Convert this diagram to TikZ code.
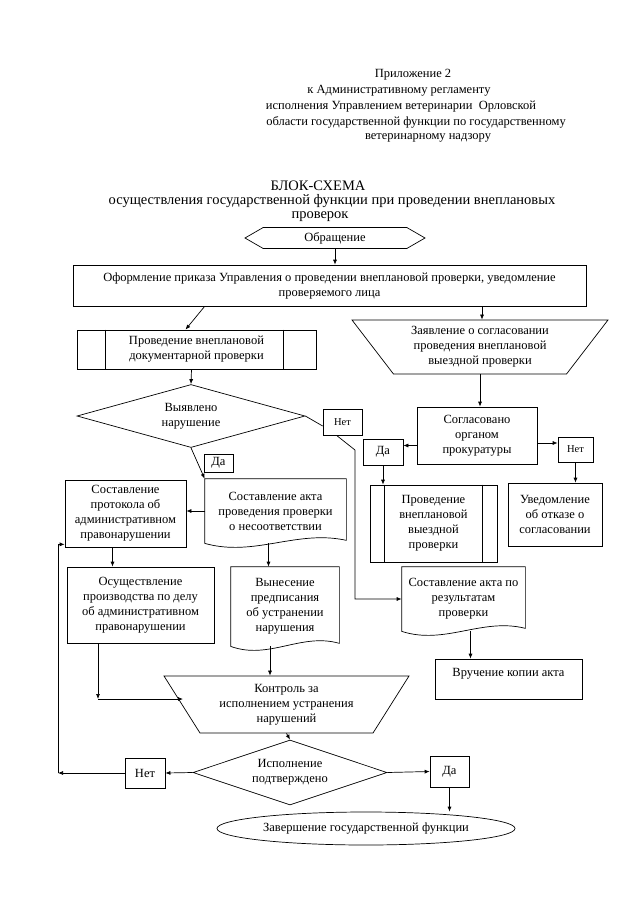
\documentclass[tikz,border=0pt]{standalone}
\usepackage{fontspec}
\setmainfont{Liberation Serif}
\usepackage{tikz}
\usetikzlibrary{shapes.geometric,shapes.symbols,arrows.meta,calc}

% wavy bottom of a document box
\newcommand{\docframe}[1]{%
  \draw (#1.north west) -- (#1.north east) -- ([yshift=3pt]#1.south east)
    .. controls ($(#1.south west)!0.65!(#1.south east)+(0pt,14pt)$)
    and ($(#1.south west)!0.35!(#1.south east)+(0pt,-14pt)$) .. (#1.south west) -- cycle;}

\begin{document}
\begin{tikzpicture}[x=1pt,y=-1pt,line width=0.7pt,
    every node/.style={font=\fontsize{12.5}{15}\selectfont},
    box/.style={draw, rectangle, align=center, inner sep=2pt},
    docbox/.style={rectangle, align=center, inner sep=2pt},
    ans/.style={draw, rectangle, inner sep=1pt},
    trap/.style={draw, trapezium, shape border rotate=180, trapezium stretches body,
      align=center, inner sep=1pt},
    cond/.style={draw, diamond, aspect=3.6, inner sep=0pt, align=center},
    ttl/.style={font=\fontsize{14.5}{17}\selectfont, inner sep=0pt},
    arr/.style={-{Latex[length=5pt,width=4pt]}}]
        \useasboundingbox (0,0) rectangle (640,905);

        % Heading
        \node (hdr1) at (413,75) {Приложение 2};
        \node (hdr2) at (399,91) {к Административному регламенту};
        \node (hdr3) at (401,107) {исполнения Управлением ветеринарии\ \ Орловской};
        \node (hdr4) at (416,122) {области государственной функции по государственному};
        \node (hdr5) at (428,138) {ветеринарному надзору};

        \node[ttl] (ttl1) at (318,186) {БЛОК-СХЕМА};
        \node[ttl] (ttl2) at (332,201) {осуществления государственной функции при проведении внеплановых};
        \node[ttl] (ttl3) at (320,217) {проверок};

        % Start and order
        \node[draw, signal, signal to=east and west, signal pointer angle=60,
          minimum width=180pt, minimum height=21pt, inner sep=1pt] (obr) at (335,238) {Обращение};
        \node[box, minimum width=513pt, minimum height=41pt] (ofor) at (329.5,285.5)
          {Оформление приказа Управления о проведении внеплановой проверки, уведомление\\проверяемого лица};

        % Document check
        \node[box, minimum width=239pt, minimum height=39pt] (doc) at (196.5,349.5)
          {Проведение внеплановой\\документарной проверки};
        \draw ([xshift=29pt]doc.north west) -- ([xshift=29pt]doc.south west);
        \draw ([xshift=-33pt]doc.north east) -- ([xshift=-33pt]doc.south east);

        \node[cond, minimum width=228pt, minimum height=63pt] (vyyav) at (191,416) {Выявлено\\нарушение};
        \node[ans, minimum width=39pt, minimum height=26pt, font=\fontsize{10.5}{12}\selectfont] (net1) at (342.5,422) {Нет};
        \node[ans, minimum width=29pt, minimum height=18pt] (da1) at (218.5,463) {Да};

        \node[docbox, minimum width=141pt, minimum height=64pt] (akt1) at (275.5,511) 
          {Составление акта\\проведения проверки\\о несоответствии};
        \docframe{akt1}
        \node[box, minimum width=121pt, minimum height=67pt] (prot) at (125.5,513.5)
          {Составление\\протокола об\\административном\\правонарушении};

        \node[box, minimum width=147pt, minimum height=76pt] (osu) at (140.5,605)
          {Осуществление\\производства по делу\\об административном\\правонарушении};
        \node[docbox, minimum width=108pt, minimum height=79pt] (vyn) at (285,606.5)
          {Вынесение\\предписания\\об устранении\\нарушения};
        \docframe{vyn}

        % Field check
        \node[trap, trapezium left angle=46, trapezium right angle=46,
          minimum width=256pt, minimum height=54pt] (sogl) at (480,347)
          {Заявление о согласовании\\проведения внеплановой\\выездной проверки};
        \node[box, minimum width=120pt, minimum height=57pt] (soglas) at (477,435.5)
          {Согласовано\\органом\\прокуратуры};
        \node[ans, minimum width=40pt, minimum height=26pt] (da2) at (383,452) {Да};
        \node[ans, minimum width=35pt, minimum height=25pt, font=\fontsize{10.5}{12}\selectfont] (net2) at (575.5,449.5) {Нет};
        \node[box, minimum width=127pt, minimum height=77pt] (vyezd) at (433.5,523.5)
          {Проведение\\внеплановой\\выездной\\проверки};
        \draw ([xshift=15pt]vyezd.north west) -- ([xshift=15pt]vyezd.south west);
        \draw ([xshift=-15pt]vyezd.north east) -- ([xshift=-15pt]vyezd.south east);
        \node[box, minimum width=94pt, minimum height=63pt] (uved) at (555,514.5)
          {Уведомление\\об отказе о\\согласовании};

        \node[docbox, minimum width=123pt, minimum height=64pt] (akt2) at (463.5,599)
          {Составление акта по\\результатам\\проверки};
        \docframe{akt2}
        \node[box, minimum width=147pt, minimum height=40pt, text depth=14pt] (vruch) at (508.5,679)
          {Вручение копии акта};

        % Control
        \node[trap, trapezium left angle=50, trapezium right angle=50,
          minimum width=245pt, minimum height=57pt] (kontrol) at (286.5,704.5)
          {Контроль за\\исполнением устранения\\нарушений};
        \node[cond, minimum width=194pt, minimum height=65pt] (ispoln) at (290,772.5) {Исполнение\\подтверждено};
        \node[ans, minimum width=40pt, minimum height=30pt] (net3) at (145,773) {Нет};
        \node[ans, minimum width=39pt, minimum height=31pt] (da3) at (449.5,771.5) {Да};
        \node[draw, ellipse, minimum width=298pt, minimum height=33pt, inner sep=0pt] (zav) at (366,828.5)
          {Завершение государственной функции};

        % Connectors
        \draw[arr] (obr.south) -- (obr.south |- ofor.north);
        \draw[arr] ([xshift=132pt]ofor.south west) -- ([xshift=-11pt]doc.north);
        \draw[arr] ([xshift=2pt]sogl.north |- ofor.south) -- ([xshift=2pt]sogl.north);
        \draw[arr] ([xshift=-5pt]doc.south) -- (vyyav.north);
        \draw (vyyav.east) -- ([yshift=-4pt]net1.west);
        \coordinate (nb) at (355,450);
        \draw[arr] ([xshift=-6pt]net1.south) -- (nb) -- (nb |- akt2.west) -- (akt2.west);
        \draw[arr] (vyyav.south) -- (akt1.north west);
        \draw[arr] (akt1.west) -- (akt1.west -| prot.east);
        \draw[arr] ([xshift=-13pt]prot.south) -- ([xshift=-13pt]prot.south |- osu.north);
        \draw[arr] ([xshift=-7pt]akt1.south) -- ([xshift=-7pt]akt1.south |- vyn.north);
        \draw[arr] ([xshift=-15pt]vyn.south) -- ([xshift=-15pt]vyn.south |- kontrol.north);
        \coordinate (oc) at (98,699);
        \draw[arr] (osu.south -| oc) -- (oc);
        \draw[arr] (oc) -- (183,699);
        \draw[arr] (sogl.south) -- (sogl.south |- soglas.north);
        \draw[arr] ([yshift=-10pt]soglas.west) -- ([yshift=-10pt]soglas.west -| da2.east);
        \draw[arr] ([yshift=-7.5pt]soglas.east) -- ([yshift=-7.5pt]soglas.east -| net2.west);
        \draw[arr] (da2.south) -- (da2.south |- vyezd.north);
        \draw[arr] (net2.south) -- (net2.south |- uved.north);
        \draw[arr] ([xshift=7pt]akt2.south) -- ([xshift=7pt]akt2.south |- vruch.north);
        \draw[arr] (kontrol.south) -- (ispoln.north);
        \draw[arr] (ispoln.west) -- (net3.east);
        \draw[arr] (ispoln.east) -- (da3.west);
        \draw[arr] (da3.south) -- (da3.south |- zav.north);
        \coordinate (lp) at (58,773);
        \coordinate (pp) at ([yshift=3pt]prot.south west);
        \draw[arr] (net3.west) -- (lp);
        \draw[arr] (lp) -- (lp |- pp) -- (pp);
\end{tikzpicture}
\end{document}
